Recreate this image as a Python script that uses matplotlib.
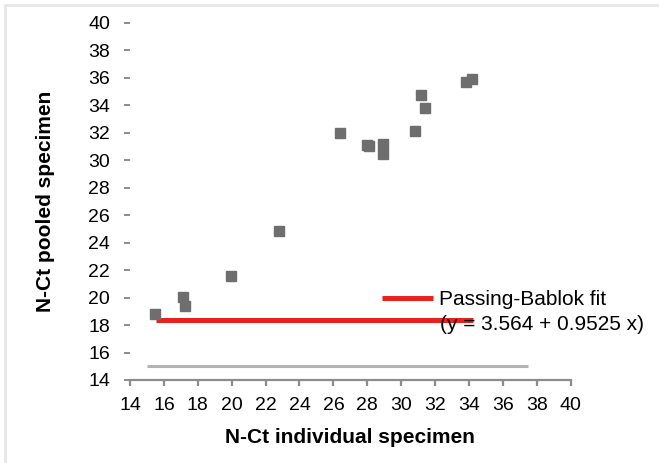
import matplotlib.pyplot as plt
from matplotlib.patches import Rectangle

plt.rcParams['font.family'] = ['Liberation Sans', 'DejaVu Sans']

# data
individual_ct = [15.5, 17.1, 17.25, 19.95, 22.8, 26.4, 28.0, 28.1, 28.95, 28.95,
                 30.8, 31.15, 31.4, 33.8, 34.2]
pooled_ct = [18.8, 20.05, 19.35, 21.6, 24.85, 32.0, 31.1, 31.0, 31.2, 30.45,
             32.1, 34.75, 33.8, 35.7, 35.9]
fit_x = [15.55, 34.25]
fit_y = [18.35, 18.35]
ref_x = [15.0, 37.5]
ref_y = [15.0, 15.0]
ticks = list(range(14, 41, 2))

fig = plt.figure(figsize=(6.59, 4.63), dpi=100)
fig.patches.append(Rectangle((5 / 659, -0.1), 1.1, 1 - 5 / 463 + 0.1,
                             transform=fig.transFigure, fill=False,
                             edgecolor='#e6e6e6', linewidth=2))
ax = fig.add_axes([130 / 659, 1 - 380 / 463, 440.7 / 659, 357.3 / 463])

ax.plot(ref_x, ref_y, color='#b3b3b3', linewidth=2.2, solid_capstyle='butt')
ax.plot(fit_x, fit_y, color='#e8201e', linewidth=3.6, solid_capstyle='butt',
        label='Passing-Bablok fit')
ax.plot(individual_ct, pooled_ct, 's', color='#6e6e6e', markersize=7.2,
        markeredgecolor='#6e6e6e', linestyle='none')

ax.set_xlim(14, 40)
ax.set_ylim(14, 40)
ax.set_xticks(ticks)
ax.set_yticks(ticks)
for side in ['top', 'right', 'left']:
    ax.spines[side].set_visible(False)
ax.spines['bottom'].set_color('#8c8c8c')
ax.spines['bottom'].set_linewidth(1.6)
ax.tick_params(axis='x', direction='out', length=4, width=1.6, color='#8c8c8c',
               labelsize=14, pad=8)
ax.tick_params(axis='y', direction='out', length=4.3, width=1.4, color='#8c8c8c',
               labelsize=14, pad=10)

ax.set_xlabel('N-Ct individual specimen', fontsize=15, fontweight='bold', labelpad=10)
ax.set_ylabel('N-Ct pooled specimen', fontsize=15, fontweight='bold', labelpad=24)

leg = ax.legend(loc='center left', bbox_to_anchor=(252 / 440.7, 1 - 277 / 357.3),
                frameon=False, fontsize=15, handlelength=2.45, handletextpad=0.3,
                borderpad=0, borderaxespad=0)
ax.text(310 / 440.7, 1 - 302 / 357.3, '(y = 3.564 + 0.9525 x)', fontsize=15,
        transform=ax.transAxes, ha='left', va='center')

fig.savefig('out.png', dpi=100)
